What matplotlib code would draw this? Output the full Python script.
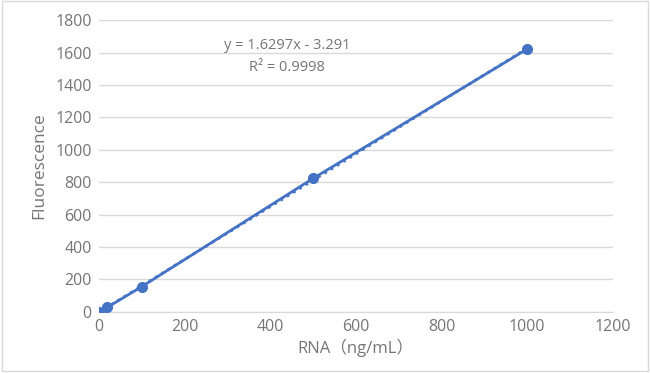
import numpy as np
import matplotlib.pyplot as plt
from matplotlib.patches import Rectangle

# data
rna = [0, 20, 100, 500, 1000]
fluor = [0, 28, 155, 823, 1622]
slope = 1.6297
intercept = -3.291
x_ticks = [0, 200, 400, 600, 800, 1000, 1200]
y_ticks = [0, 200, 400, 600, 800, 1000, 1200, 1400, 1600, 1800]

plt.rcParams['font.family'] = ['Open Sans', 'Noto Sans CJK SC', 'DejaVu Sans']
blue = '#4472C4'
grey = '#757575'

fig = plt.figure(figsize=(6.5, 3.73), dpi=100)
ax = fig.add_axes([0.152, 0.164, 0.791, 0.782])

ax.plot(rna, fluor, color=blue, linewidth=2, marker='o', markersize=7, zorder=3)
xfit = np.array([min(rna), max(rna)])
ax.plot(xfit, slope * xfit + intercept, color=blue, linewidth=2, linestyle=':', zorder=4)

ax.set_xlim(0, 1200)
ax.set_ylim(0, 1800)
ax.set_xticks(x_ticks)
ax.set_yticks(y_ticks)
ax.grid(axis='y', color='#D9D9D9', linewidth=1)
ax.set_axisbelow(True)
for s in ['top', 'right', 'left']:
    ax.spines[s].set_visible(False)
ax.spines['bottom'].set_color('#D9D9D9')
ax.tick_params(length=0, colors=grey, labelsize=11.5, pad=5)

ax.set_xlabel('RNA（ng/mL）', color=grey, fontsize=12, labelpad=3)
ax.set_ylabel('Fluorescence', color=grey, fontsize=12.5, labelpad=6)

ax.text(440, 1646, f'y = {slope}x - {abs(intercept)}', ha='center', va='center', color=grey, fontsize=10.5)
ax.text(440, 1508, 'R² = 0.9998', ha='center', va='center', color=grey, fontsize=10.5)

fig.patches.append(Rectangle((0.003, 0.006), 0.994, 0.99, transform=fig.transFigure,
                             fill=False, edgecolor='#D9D9D9', linewidth=1))

fig.savefig('out.png', dpi=100)
